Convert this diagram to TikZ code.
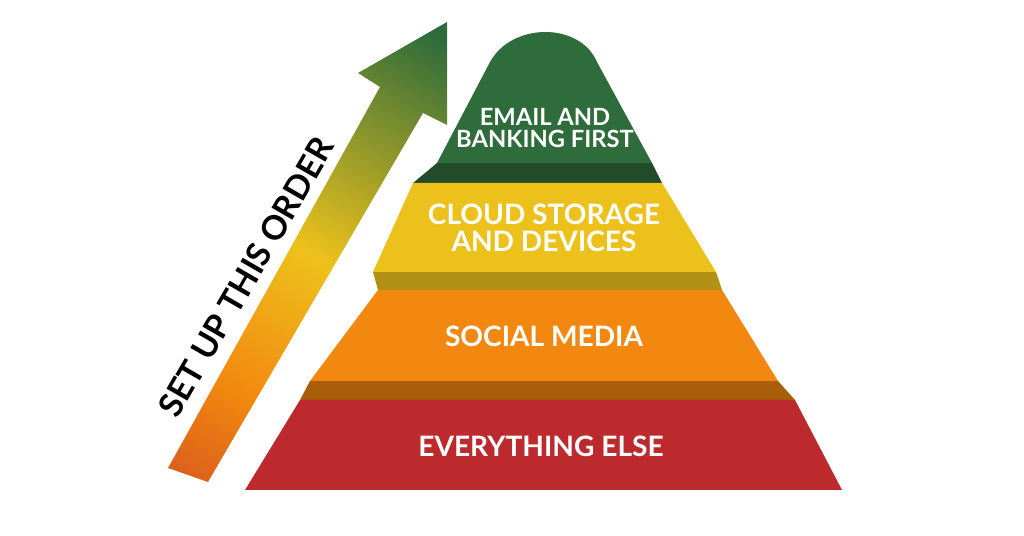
\documentclass[tikz,border=0pt]{standalone}
\usepackage{fontspec}
\setmainfont{Lato}
\definecolor{tierred}{HTML}{BC2A2E}
\definecolor{tierorange}{HTML}{F2880F}
\definecolor{tieryellow}{HTML}{EDC11B}
\definecolor{tiergreen}{HTML}{2F6C3B}
\pgfdeclareverticalshading{climb}{100bp}{color(0bp)=(tierred); color(30bp)=(tierorange); color(50bp)=(tieryellow); color(82bp)=(tiergreen); color(100bp)=(tiergreen)}
\tikzset{
  tierlabel/.style={text=white, font=\bfseries\fontsize{16}{18}\selectfont, align=center},
}
\begin{document}
\begin{tikzpicture}[x=0.02cm, y=-0.02cm]
\useasboundingbox (0,0) rectangle (1024,536);
% shadow bands
\fill[tiergreen!70!black] (437,163)--(652,163)--(662,183)--(413,183)--cycle;
\fill[tieryellow!75!black] (373,272)--(716,272)--(722,290)--(378,290)--cycle;
\fill[tierorange!70!black] (310,381)--(778,381)--(795,400)--(300,400)--cycle;
% tiers
\fill[tierred] (300,400)--(795,400)--(842,490)--(245,490)--cycle;
\fill[tierorange] (378,290)--(722,290)--(778,381)--(310,381)--cycle;
\fill[tieryellow] (413,183)--(662,183)--(716,272)--(373,272)--cycle;
\fill[tiergreen] (437,163)--(490,62) .. controls (512,22) and (580,22) .. (597,62)--(652,163)--cycle;
\node[tierlabel] (everything) at (541,446) {EVERYTHING ELSE};
\node[tierlabel] (social) at (544,336) {SOCIAL MEDIA};
\node[tierlabel] (cloud) at (544,228) {CLOUD STORAGE\\[-3pt]AND DEVICES};
\node[tierlabel, font=\bfseries\fontsize{13.5}{15.5}\selectfont] (email) at (545,128) {EMAIL AND\\[-3pt]BANKING FIRST};
% arrow
\shade[shading=climb, shading angle=-30] (168,468)--(380,87)--(358,73)--(447,22)--(447,125)--(423,113)--(208,482)--cycle;
\node[rotate=60, font=\bfseries\fontsize{19}{21}\selectfont] (order) at (246,277) {SET UP THIS ORDER};
\end{tikzpicture}
\end{document}
